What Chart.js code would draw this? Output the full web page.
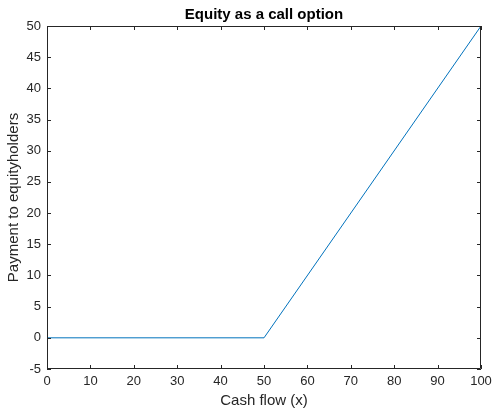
<!DOCTYPE html>
<html>
<head>
<meta charset="utf-8">
<script src="https://cdn.jsdelivr.net/npm/chart.js@4"></script>
<style>
  html, body { margin: 0; padding: 0; background: #fff; }
  #wrap { width: 493px; height: 408px; }
</style>
</head>
<body>
<div id="wrap"><canvas id="chart"></canvas></div>
<script>
const chartTitle = 'Equity as a call option';
const cashFlow = [0, 50, 100];
const payment = [0, 0, 50];
const xTicks = [0, 10, 20, 30, 40, 50, 60, 70, 80, 90, 100];
const yTicks = [-5, 0, 5, 10, 15, 20, 25, 30, 35, 40, 45, 50];

const axisColor = '#262626';
const fontFamily = '"Liberation Sans", Arial, Helvetica, sans-serif';

// MATLAB style box with inward ticks on all four sides, title centred on the axes
const boxPlugin = {
    id: 'box',
    afterDraw(chart) {
        const { ctx, chartArea: a, scales } = chart;
        const len = 4;
        ctx.save();
        ctx.strokeStyle = axisColor;
        ctx.lineWidth = 1;
        ctx.beginPath();
        ctx.rect(a.left + 0.5, a.top + 0.5, a.right - a.left - 1, a.bottom - a.top - 1);
        xTicks.forEach(v => {
            const x = Math.round(scales.x.getPixelForValue(v)) + 0.5;
            ctx.moveTo(x, a.bottom);
            ctx.lineTo(x, a.bottom - len);
            ctx.moveTo(x, a.top);
            ctx.lineTo(x, a.top + len);
        });
        yTicks.forEach(v => {
            const y = Math.round(scales.y.getPixelForValue(v)) + 0.5;
            ctx.moveTo(a.left, y);
            ctx.lineTo(a.left + len, y);
            ctx.moveTo(a.right, y);
            ctx.lineTo(a.right - len, y);
        });
        ctx.stroke();

        ctx.fillStyle = '#000';
        ctx.font = 'bold 15px ' + fontFamily;
        ctx.textAlign = 'center';
        ctx.textBaseline = 'alphabetic';
        ctx.fillText(chartTitle, (a.left + a.right) / 2, 19);
        ctx.restore();
    }
};

new Chart(document.getElementById('chart'), {
    type: 'line',
    data: {
        datasets: [{
            data: cashFlow.map((x, i) => ({ x: x, y: payment[i] })),
            borderColor: '#0072BD',
            borderWidth: 1,
            pointRadius: 0,
            tension: 0,
            fill: false
        }]
    },
    options: {
        responsive: true,
        maintainAspectRatio: false,
        animation: false,
        devicePixelRatio: 1,
        layout: { padding: { top: 26, right: 12, left: 0, bottom: 0 } },
        plugins: {
            legend: { display: false },
            tooltip: { enabled: false },
            title: { display: false }
        },
        scales: {
            x: {
                type: 'linear',
                min: 0,
                max: 100,
                afterBuildTicks: s => { s.ticks = xTicks.map(v => ({ value: v })); },
                afterFit: s => { s.height = 39; s.paddingLeft = 0; s.paddingRight = 0; },
                grid: { display: false, drawTicks: false },
                border: { display: false },
                ticks: { color: axisColor, padding: 5, maxRotation: 0, font: { family: fontFamily, size: 13 } },
                title: {
                    display: true,
                    text: 'Cash flow (x)',
                    color: axisColor,
                    font: { family: fontFamily, size: 15, lineHeight: 1 },
                    padding: { top: 0, bottom: 0 }
                }
            },
            y: {
                min: -5,
                max: 50,
                afterBuildTicks: s => { s.ticks = yTicks.map(v => ({ value: v })); },
                afterFit: s => { s.width = 47; s.paddingTop = 0; s.paddingBottom = 0; },
                grid: { display: false, drawTicks: false },
                border: { display: false },
                ticks: { color: axisColor, padding: 6, font: { family: fontFamily, size: 13 } },
                title: {
                    display: true,
                    text: 'Payment to equityholders',
                    color: axisColor,
                    font: { family: fontFamily, size: 15, lineHeight: 1.2 },
                    padding: { top: 5, bottom: 0 }
                }
            }
        }
    },
    plugins: [boxPlugin]
});
</script>
</body>
</html>
